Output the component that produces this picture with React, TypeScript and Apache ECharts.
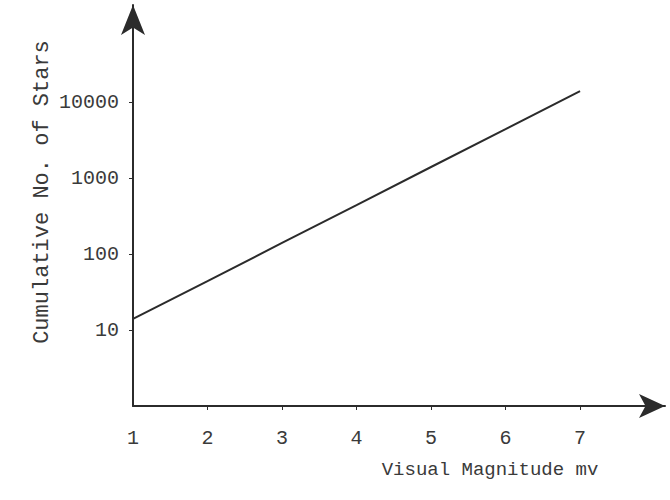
import React, { useEffect, useRef } from "react";
import * as echarts from "echarts";

const magnitudes = [1, 2, 3, 4, 5, 6, 7];
const cumulativeStars = [14, 44, 140, 440, 1400, 4400, 14000];
const xTickLabels = [1, 2, 3, 4, 5, 6, 7];
const yTickLabels = [10, 100, 1000, 10000];
const xTitle = "Visual Magnitude mv";
const yTitle = "Cumulative No. of Stars";

const FONT = "'Liberation Mono', 'DejaVu Sans Mono', monospace";
const INK = "#2b2b2b";
const TEXT = "#3a3a3a";

export default function App() {
  const ref = useRef<HTMLDivElement>(null);
  useEffect(() => {
    if (!ref.current) return;
    const chart = echarts.init(ref.current, null, { renderer: "svg" });
    chart.setOption({
      animation: false,
      backgroundColor: "#ffffff",
      grid: { left: 133, top: 5, right: 5, bottom: 94, containLabel: false },
      xAxis: {
        type: "value",
        min: 1,
        max: 8.14,
        splitLine: { show: false },
        axisLine: {
          show: true,
          lineStyle: { color: INK, width: 2 },
          symbol: ["none", "arrow"],
          symbolSize: [18, 26],
        },
        axisTick: {
          show: true,
          customValues: xTickLabels.filter((v) => v !== 1),
          length: 4,
          lineStyle: { color: INK, width: 1 },
        },
        axisLabel: {
          show: true,
          customValues: xTickLabels,
          formatter: (v: number) => String(v),
          margin: 22,
          fontFamily: FONT,
          fontSize: 20,
          color: TEXT,
        },
      },
      yAxis: {
        type: "log",
        logBase: 10,
        min: 1,
        max: 190000,
        splitLine: { show: false },
        axisLine: {
          show: true,
          lineStyle: { color: INK, width: 2 },
          symbol: ["none", "arrow"],
          symbolSize: [18, 30],
        },
        axisTick: {
          show: true,
          customValues: yTickLabels,
          length: 4,
          lineStyle: { color: INK, width: 1 },
        },
        axisLabel: {
          show: true,
          customValues: yTickLabels,
          formatter: (v: number) => String(Math.round(v)),
          margin: 14,
          fontFamily: FONT,
          fontSize: 20,
          color: TEXT,
        },
      },
      graphic: [
        {
          type: "text",
          x: 490,
          y: 470,
          style: {
            text: xTitle,
            font: `19px ${FONT}`,
            fill: TEXT,
            align: "center",
            verticalAlign: "middle",
          },
        },
        {
          type: "text",
          x: 42,
          y: 192,
          rotation: Math.PI / 2,
          style: {
            text: yTitle,
            font: `22px ${FONT}`,
            fill: TEXT,
            align: "center",
            verticalAlign: "middle",
          },
        },
      ],
      series: [
        {
          type: "line",
          data: magnitudes.map((m, i) => [m, cumulativeStars[i]]),
          symbol: "none",
          lineStyle: { color: INK, width: 2 },
        },
      ],
    });
    return () => chart.dispose();
  }, []);
  return <div ref={ref} style={{ width: 670, height: 500, position: "absolute", left: 0, top: 0 }} />;
}
